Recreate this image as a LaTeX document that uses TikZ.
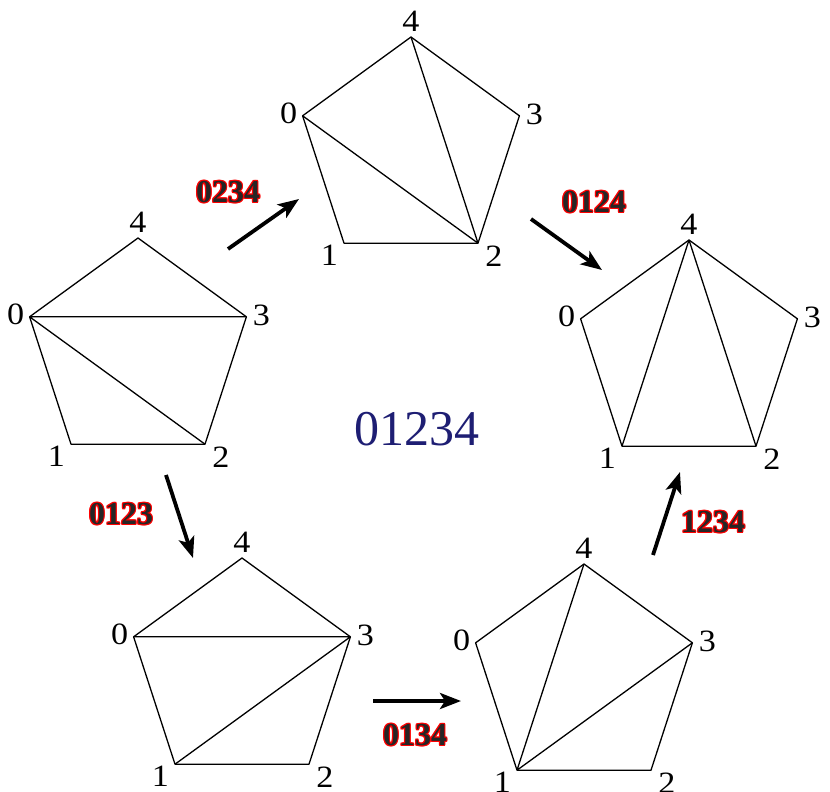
\documentclass[tikz,border=0pt]{standalone}
\usepackage{fontspec}
\setmainfont{Liberation Serif}
\newfontfamily\vfont[FakeStretch=1.1]{Liberation Serif}
\usetikzlibrary{arrows.meta}
\definecolor{navyblue}{RGB}{30,30,115}
\newcommand\haloone[3]{\rlap{\color{red}\kern#1\raisebox{#2}{#3}}}
\newcommand\halo[1]{\leavevmode
  \haloone{-1.2pt}{0pt}{#1}\haloone{1.2pt}{0pt}{#1}%
  \haloone{0pt}{1.2pt}{#1}\haloone{0pt}{-1.2pt}{#1}%
  \haloone{-0.85pt}{0.85pt}{#1}\haloone{0.85pt}{0.85pt}{#1}%
  \haloone{-0.85pt}{-0.85pt}{#1}\haloone{0.85pt}{-0.85pt}{#1}%
  #1}
\tikzset{
  edge/.style={line width=1.3pt, line join=round},
  vlabel/.style={inner sep=0pt, font=\vfont\fontsize{31}{31}\selectfont},
  movearrow/.style={line width=3.8pt, -{Stealth[length=21pt,width=16pt,inset=5pt]}},
  movelabel/.style={inner sep=0pt, text=black!85, font=\fontsize{32}{32}\selectfont\bfseries},
}
\newcommand\pent[3]{%
  \coordinate (#14) at (#2,#3-114);
  \coordinate (#13) at (#2+108.4,#3-35.2);
  \coordinate (#12) at (#2+67,#3+92.2);
  \coordinate (#11) at (#2-67,#3+92.2);
  \coordinate (#10) at (#2-108.4,#3-35.2);
  \draw[edge] (#14)--(#13)--(#12)--(#11)--(#10)--cycle;
  \node[vlabel] (#1l4) at (#2,#3-114-16) {4};
  \node[vlabel] (#1l3) at (#2+108.4+15,#3-35.2-1) {3};
  \node[vlabel] (#1l2) at (#2+67+16,#3+92.2+13) {2};
  \node[vlabel] (#1l1) at (#2-67-14.5,#3+92.2+12) {1};
  \node[vlabel] (#1l0) at (#2-108.4-14,#3-35.2-2) {0};
}
\begin{document}
\begin{tikzpicture}[x=1pt,y=-1pt]
\path[use as bounding box] (0,0) rectangle (830,792);
\pent{A}{138}{352}
\pent{B}{411}{151}
\pent{C}{689}{354}
\pent{D}{242}{672}
\pent{E}{584}{678}
% diagonals
\draw[edge] (A0)--(A3) (A0)--(A2);
\draw[edge] (B0)--(B2) (B4)--(B2);
\draw[edge] (C4)--(C1) (C4)--(C2);
\draw[edge] (D0)--(D3) (D1)--(D3);
\draw[edge] (E1)--(E4) (E1)--(E3);
% centre
\node[inner sep=0pt, text=navyblue, font=\fontsize{50}{50}\selectfont] (center) at (417,429) {01234};
% arrows
\coordinate (ABs) at (228,249); \coordinate (ABe) at (299,199);
\coordinate (BCs) at (531,219); \coordinate (BCe) at (602,270);
\coordinate (ADs) at (166,475); \coordinate (ADe) at (193,558);
\coordinate (DEs) at (373,701); \coordinate (DEe) at (461,701);
\coordinate (ECs) at (653,555); \coordinate (ECe) at (680,472);
\draw[movearrow] (ABs) -- (ABe);
\draw[movearrow] (BCs) -- (BCe);
\draw[movearrow] (ADs) -- (ADe);
\draw[movearrow] (DEs) -- (DEe);
\draw[movearrow] (ECs) -- (ECe);
% move labels
\node[movelabel] (m0234) at (228,192) {\halo{0234}};
\node[movelabel] (m0124) at (594,202) {\halo{0124}};
\node[movelabel] (m0123) at (121,514) {\halo{0123}};
\node[movelabel] (m0134) at (415,735) {\halo{0134}};
\node[movelabel] (m1234) at (713,522) {\halo{1234}};
\end{tikzpicture}
\end{document}
